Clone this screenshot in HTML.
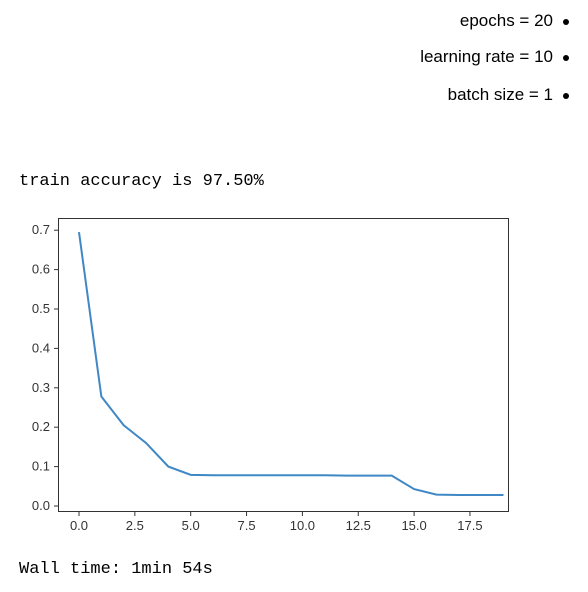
<!DOCTYPE html>
<html><head><meta charset="utf-8"><style>
body{margin:0;width:588px;height:592px;background:#fff;position:relative;font-family:"Liberation Sans",sans-serif;overflow:hidden}
.li{position:absolute;right:35px;font-size:17px;color:#000}
.dot{position:absolute;right:19px;width:6px;height:6px;border-radius:50%;background:#000}
.mono{position:absolute;left:19px;font-family:"Liberation Mono",monospace;font-size:17px;color:#000}
</style></head><body>
<div class="li" style="top:11px">epochs = 20</div>
<div class="dot" style="top:19px"></div>
<div class="li" style="top:47px">learning rate = 10</div>
<div class="dot" style="top:55px"></div>
<div class="li" style="top:85px">batch size = 1</div>
<div class="dot" style="top:93px"></div>
<div class="mono" style="top:172px">train accuracy is 97.50%</div>
<svg id="chart" width="588" height="592" style="position:absolute;left:0;top:0"></svg>
<div class="mono" style="top:560px">Wall time: 1min 54s</div>
<script>
const epochs=[0,1,2,3,4,5,6,7,8,9,10,11,12,13,14,15,16,17,18,19];
const loss=[0.695,0.278,0.205,0.16,0.10,0.079,0.078,0.078,0.078,0.078,0.078,0.078,0.077,0.077,0.077,0.043,0.029,0.028,0.028,0.028];
const xTicks=[0,2.5,5,7.5,10,12.5,15,17.5];
const yTicks=[0,0.1,0.2,0.3,0.4,0.5,0.6,0.7];
const NS="http://www.w3.org/2000/svg";
const svg=document.getElementById('chart');
const X=v=>79+v*22.34, Y=v=>506-v*394;
function mk(t,a){const e=document.createElementNS(NS,t);for(const k in a)e.setAttribute(k,a[k]);svg.appendChild(e);return e;}
const box=mk('rect',{x:58.5,y:218.5,width:450,height:293,fill:'none',stroke:'#333','stroke-width':1});


xTicks.forEach(t=>{
 const l=mk('line',{x1:X(t),x2:X(t),y1:512,y2:516,stroke:'#333'});
 
 
 const tx=mk('text',{x:X(t),y:530,'text-anchor':'middle','font-size':13,fill:'#333','font-family':'Liberation Sans, sans-serif'});
 tx.textContent=t.toFixed(1);
 
 
});
yTicks.forEach(t=>{
 const l=mk('line',{x1:54,x2:58,y1:Y(t),y2:Y(t),stroke:'#333'});
 
 
 const tx=mk('text',{x:50,y:Y(t)+4,'text-anchor':'end','font-size':13,fill:'#333','font-family':'Liberation Sans, sans-serif'});
 tx.textContent=t.toFixed(1);
 
 
});
const p=mk('polyline',{points:epochs.map((e,i)=>X(e)+','+Y(loss[i])).join(' '),fill:'none',stroke:'#3f88c5','stroke-width':2});


</script>
</body></html>
